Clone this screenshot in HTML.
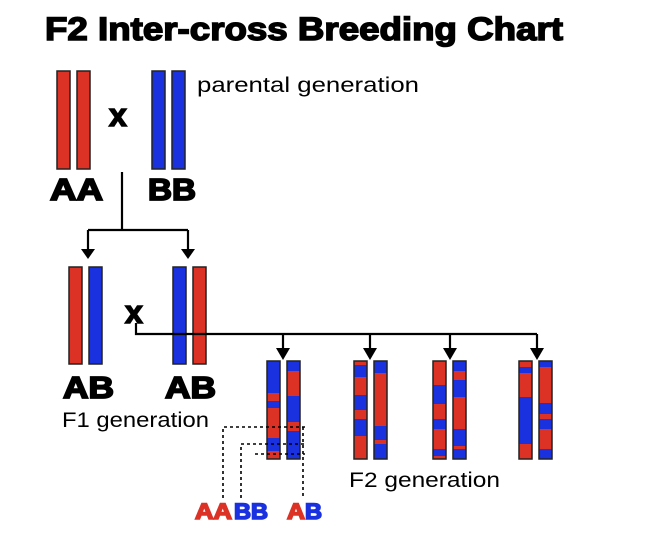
<!DOCTYPE html>
<html><head><meta charset="utf-8"><style>
html,body{margin:0;padding:0;background:#fff;}
svg{display:block;}
.t{font-family:"Liberation Sans",sans-serif;}
</style></head><body>
<svg width="666" height="536" viewBox="0 0 666 536" xmlns="http://www.w3.org/2000/svg">
<text class="t" x="45" y="40" font-size="32" font-weight="bold" textLength="518" lengthAdjust="spacingAndGlyphs" stroke="#000" stroke-width="1.5">F2 Inter-cross Breeding Chart</text>
<text class="t" x="197" y="92" font-size="21" textLength="222" lengthAdjust="spacingAndGlyphs">parental generation</text>

<g stroke="#222" stroke-width="1.5">
<rect x="57" y="71" width="13" height="98" fill="#dc3226"/>
<rect x="77" y="71" width="13" height="98" fill="#dc3226"/>
<rect x="152" y="71" width="13" height="98" fill="#1a31e0"/>
<rect x="172" y="71" width="13" height="98" fill="#1a31e0"/>
<rect x="69" y="267" width="13" height="97" fill="#dc3226"/>
<rect x="89" y="267" width="13" height="97" fill="#1a31e0"/>
<rect x="173" y="267" width="13" height="97" fill="#1a31e0"/>
<rect x="193" y="267" width="13" height="97" fill="#dc3226"/>
</g>
<text class="t" x="109" y="126" font-size="32" font-weight="bold" stroke="#000" stroke-width="1.5">x</text>
<text class="t" x="125" y="323" font-size="32" font-weight="bold" stroke="#000" stroke-width="1.5">x</text>
<g class="t" font-size="31" font-weight="bold" stroke="#000" stroke-width="1.8">
<text x="50" y="200" textLength="53" lengthAdjust="spacingAndGlyphs">AA</text>
<text x="148" y="200" textLength="48" lengthAdjust="spacingAndGlyphs">BB</text>
<text x="63" y="398" textLength="51" lengthAdjust="spacingAndGlyphs">AB</text>
<text x="165" y="398" textLength="51" lengthAdjust="spacingAndGlyphs">AB</text>
</g>
<text class="t" x="62" y="427" font-size="21" textLength="147" lengthAdjust="spacingAndGlyphs">F1 generation</text>
<text class="t" x="349" y="487" font-size="21" textLength="151" lengthAdjust="spacingAndGlyphs">F2 generation</text>

<g stroke="#000" stroke-width="2.2" fill="none">
<path d="M122 172V230M88 230H188M88 230V250M188 230V250"/>
<path d="M136 323V334H537M283 334V350M370 334V350M450 334V350M537 334V350"/>
</g>
<g fill="#000">
<path d="M81 249H95L88 259Z"/><path d="M181 249H195L188 259Z"/>
<path d="M276 348H290L283 360Z"/><path d="M363 348H377L370 360Z"/>
<path d="M443 348H457L450 360Z"/><path d="M530 348H544L537 360Z"/>
</g>

<g stroke="none">
<rect x="267" y="361" width="13" height="98" fill="#1a31e0"/>
<rect x="267" y="393" width="13" height="8" fill="#dc3226"/>
<rect x="267" y="408" width="13" height="30" fill="#dc3226"/>
<rect x="267" y="451" width="13" height="8" fill="#dc3226"/>
<rect x="287" y="361" width="13" height="98" fill="#1a31e0"/>
<rect x="287" y="371" width="13" height="25" fill="#dc3226"/>
<rect x="287" y="422" width="13" height="9" fill="#dc3226"/>
<rect x="354" y="361" width="13" height="98" fill="#dc3226"/>
<rect x="354" y="365" width="13" height="12" fill="#1a31e0"/>
<rect x="354" y="395" width="13" height="15" fill="#1a31e0"/>
<rect x="354" y="419" width="13" height="17" fill="#1a31e0"/>
<rect x="374" y="361" width="13" height="98" fill="#1a31e0"/>
<rect x="374" y="373" width="13" height="53" fill="#dc3226"/>
<rect x="374" y="440" width="13" height="4" fill="#dc3226"/>
<rect x="433" y="361" width="13" height="98" fill="#dc3226"/>
<rect x="433" y="385" width="13" height="19" fill="#1a31e0"/>
<rect x="433" y="419" width="13" height="10" fill="#1a31e0"/>
<rect x="433" y="449" width="13" height="7" fill="#1a31e0"/>
<rect x="453" y="361" width="13" height="98" fill="#1a31e0"/>
<rect x="453" y="371" width="13" height="9" fill="#dc3226"/>
<rect x="453" y="397" width="13" height="32" fill="#dc3226"/>
<rect x="453" y="446" width="13" height="3" fill="#dc3226"/>
<rect x="519" y="361" width="13" height="98" fill="#dc3226"/>
<rect x="519" y="367" width="13" height="6" fill="#1a31e0"/>
<rect x="519" y="397" width="13" height="47" fill="#1a31e0"/>
<rect x="539" y="361" width="13" height="98" fill="#dc3226"/>
<rect x="539" y="361" width="13" height="6" fill="#1a31e0"/>
<rect x="539" y="403" width="13" height="11" fill="#1a31e0"/>
<rect x="539" y="419" width="13" height="10" fill="#1a31e0"/>
<rect x="539" y="449" width="13" height="10" fill="#1a31e0"/>
</g>
<g fill="none" stroke="#222" stroke-width="1.5">
<rect x="267" y="361" width="13" height="98"/><rect x="287" y="361" width="13" height="98"/>
<rect x="354" y="361" width="13" height="98"/><rect x="374" y="361" width="13" height="98"/>
<rect x="433" y="361" width="13" height="98"/><rect x="453" y="361" width="13" height="98"/>
<rect x="519" y="361" width="13" height="98"/><rect x="539" y="361" width="13" height="98"/>
</g>

<g fill="none" stroke="#000" stroke-width="1.6" stroke-dasharray="3,3">
<path d="M223 498V427H305"/>
<path d="M241 498V444H305"/>
<path d="M255 454H305"/>
<path d="M303 427V498"/>
</g>
<g class="t" font-size="22" font-weight="bold" stroke-width="1.6">
<text x="195" y="519" fill="#dc3226" stroke="#dc3226" textLength="37" lengthAdjust="spacingAndGlyphs">AA</text>
<text x="234" y="519" fill="#1a31e0" stroke="#1a31e0" textLength="34" lengthAdjust="spacingAndGlyphs">BB</text>
<text x="287" y="519" fill="#dc3226" stroke="#dc3226" textLength="18" lengthAdjust="spacingAndGlyphs">A</text>
<text x="305" y="519" fill="#1a31e0" stroke="#1a31e0" textLength="17" lengthAdjust="spacingAndGlyphs">B</text>
</g>
</svg>
</body></html>
